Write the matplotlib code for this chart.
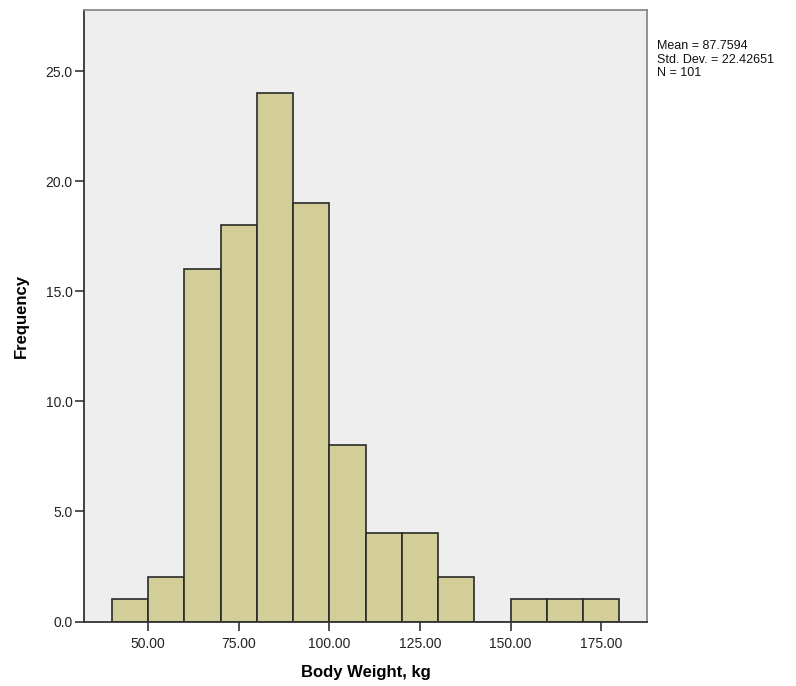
import matplotlib
matplotlib.use("Agg")
import matplotlib.pyplot as plt

plt.rcParams["font.family"] = ["Liberation Sans", "DejaVu Sans"]

# histogram of body weight, bins of 10 kg
bin_edges = [40, 50, 60, 70, 80, 90, 100, 110, 120, 130, 140, 150, 160, 170, 180]
counts = [1, 2, 16, 18, 24, 19, 8, 4, 4, 2, 0, 1, 1, 1]
x_ticks = [50, 75, 100, 125, 150, 175]
y_ticks = [0, 5, 10, 15, 20, 25]
stats_text = "Mean = 87.7594\nStd. Dev. = 22.42651\nN = 101"

fig = plt.figure(figsize=(7.96, 6.86), dpi=100)
ax = fig.add_axes([0.106, 0.094, 0.707, 0.891])
ax.set_facecolor("#eeeeee")

ax.hist(bin_edges[:-1], bins=bin_edges, weights=counts,
        color="#d3ce97", edgecolor="#2a2a2a", linewidth=1.2, zorder=2)

ax.set_xlim(32.4, 187.7)
ax.set_ylim(0, 27.76)
ax.set_xticks(x_ticks)
ax.set_xticklabels([f"{v:.2f}" for v in x_ticks])
ax.set_yticks(y_ticks)
ax.set_yticklabels([f"{v:.1f}" for v in y_ticks])
ax.tick_params(direction="out", length=6.5, width=1.2, color="#333333",
               labelsize=10, labelcolor="#222222", pad=2)
ax.tick_params(axis="x", pad=5)

for side in ["left", "bottom"]:
    ax.spines[side].set_color("#333333")
    ax.spines[side].set_linewidth(1.3)
for side in ["top", "right"]:
    ax.spines[side].set_color("#8a8a8a")
    ax.spines[side].set_linewidth(1.3)

ax.set_xlabel("Body Weight, kg", fontsize=12, fontweight="bold", labelpad=10)
ax.set_ylabel("Frequency", fontsize=12, fontweight="bold", labelpad=12)

fig.text(0.825, 0.942, stats_text, fontsize=9, va="top", ha="left",
         linespacing=1.2, color="#111111")

fig.savefig("out.png", dpi=100)
